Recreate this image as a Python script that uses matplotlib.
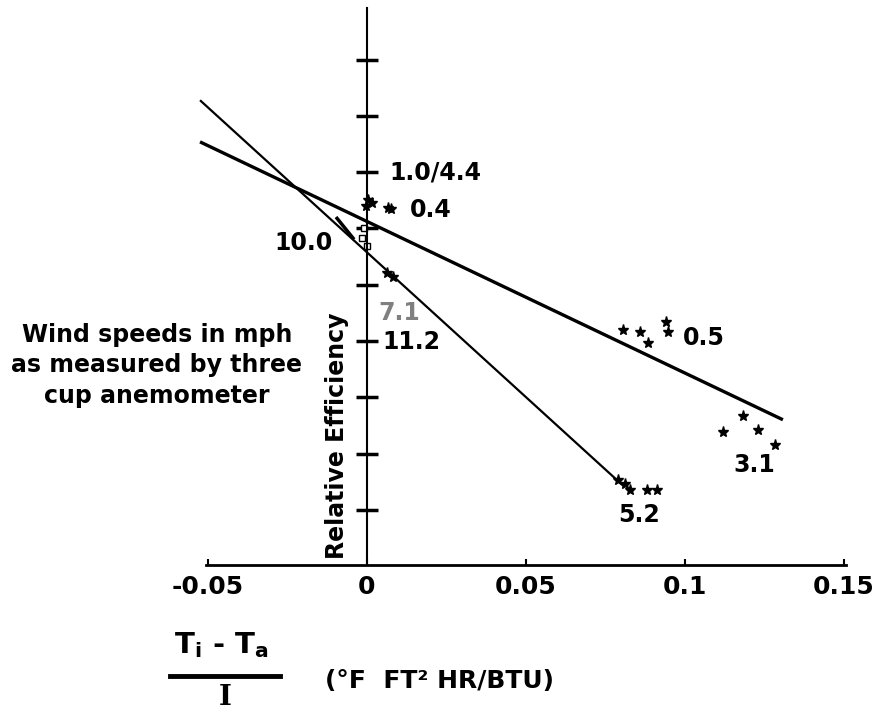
import matplotlib
matplotlib.use("Agg")
import matplotlib.pyplot as plt

plt.rcParams['font.family'] = ['DejaVu Sans']
plt.rcParams['axes.unicode_minus'] = False

# ---- data ----
x_ticks = [-0.05, 0, 0.05, 0.1, 0.15]
x_tick_labels = ["-0.05", "0", "0.05", "0.1", "0.15"]
y_ticks = [0.1, 0.2, 0.3, 0.4, 0.5, 0.6, 0.7, 0.8, 0.9]

# fitted lines (two end points each)
line_low_wind_x = [-0.0525, 0.1308]
line_low_wind_y = [0.754, 0.260]
line_high_wind_x = [-0.0525, 0.0811]
line_high_wind_y = [0.828, 0.140]

# measured clusters (wind speed label -> points)
pts_1_0_x = [0.0003, 0.0016, -0.0004]
pts_1_0_y = [0.651, 0.645, 0.640]
pts_0_4_x = [0.0066, 0.0075]
pts_0_4_y = [0.636, 0.635]
pts_10_0_x = [-0.0009, -0.0016, 0.0]
pts_10_0_y = [0.601, 0.583, 0.568]
pts_7_1_x = [0.0063, 0.0082]
pts_7_1_y = [0.521, 0.514]
pts_0_5_x = [0.0805, 0.0858, 0.0884, 0.0940, 0.0947]
pts_0_5_y = [0.420, 0.416, 0.396, 0.434, 0.416]
pts_3_1_x = [0.1120, 0.1182, 0.1230, 0.1283]
pts_3_1_y = [0.238, 0.267, 0.242, 0.215]
pts_5_2_x = [0.0789, 0.0811, 0.0827, 0.0880, 0.0912]
pts_5_2_y = [0.153, 0.146, 0.135, 0.135, 0.135]

cluster_labels = ["1.0/4.4", "0.4", "10.0", "7.1", "11.2", "0.5", "3.1", "5.2"]
label_x = [0.0072, 0.0135, -0.0107, 0.0035, 0.0048, 0.0994, 0.1151, 0.0790]
label_y = [0.699, 0.633, 0.574, 0.450, 0.398, 0.405, 0.180, 0.091]
label_ha = ["left", "left", "right", "left", "left", "left", "left", "left"]
label_color = ["black", "black", "black", "#808080", "black", "black", "black", "black"]

pointer_x = [-0.0094, -0.0044]
pointer_y = [0.618, 0.583]

# ---- figure ----
fig = plt.figure(figsize=(8.78, 7.09), dpi=100)
ax = fig.add_axes([0, 0, 1, 1])
ax.set_xlim(-0.1154, 0.1607)
ax.set_ylim(-0.2542, 1.0062)

for s in ['top', 'right']:
    ax.spines[s].set_visible(False)
ax.spines['left'].set_position(('data', 0))
ax.spines['left'].set_bounds(0.0018, 0.992)
ax.spines['left'].set_linewidth(1.5)
ax.spines['bottom'].set_position(('data', 0.0018))
ax.spines['bottom'].set_bounds(-0.0505, 0.1505)
ax.spines['bottom'].set_linewidth(2)

ax.set_xticks(x_ticks)
ax.set_xticklabels(x_tick_labels, fontsize=18, fontweight='bold')
ax.tick_params(axis='x', direction='in', length=4, width=1.5, pad=7)
ax.set_yticks(y_ticks)
ax.set_yticklabels([])
ax.tick_params(axis='y', direction='inout', length=16, width=2.5)

ax.plot(line_low_wind_x, line_low_wind_y, color='black', lw=2.4, solid_capstyle='butt')
ax.plot(line_high_wind_x, line_high_wind_y, color='black', lw=1.6, solid_capstyle='butt')
ax.plot(pointer_x, pointer_y, color='black', lw=2.5)

star = dict(marker='*', color='black', ms=8, ls='none')
ax.plot(pts_1_0_x, pts_1_0_y, **star)
ax.plot(pts_0_4_x, pts_0_4_y, **star)
ax.plot(pts_10_0_x, pts_10_0_y, marker='s', mfc='white', mec='black', ms=5, ls='none')
ax.plot(pts_7_1_x, pts_7_1_y, **star)
ax.plot(pts_0_5_x, pts_0_5_y, **star)
ax.plot(pts_3_1_x, pts_3_1_y, **star)
ax.plot(pts_5_2_x, pts_5_2_y, **star)

for t, lx, ly, ha, c in zip(cluster_labels, label_x, label_y, label_ha, label_color):
    ax.text(lx, ly, t, ha=ha, va='center', fontsize=17, fontweight='bold', color=c)

ax.text(-0.0661, 0.357, "Wind speeds in mph\nas measured by three\ncup anemometer",
        ha='center', va='center', fontsize=17, fontweight='bold', linespacing=1.35)
ax.text(-0.0094, 0.232, "Relative Efficiency", rotation=90, ha='center', va='center',
        fontsize=17, fontweight='bold')

# x axis label as fraction
ax.text(-0.0459, -0.140, r"T$_\mathregular{i}$ - T$_\mathregular{a}$", ha='center', va='center',
        fontsize=21, fontweight='bold')
ax.plot([-0.0619, -0.0274], [-0.1956, -0.1956], color='black', lw=3.5)
ax.text(-0.0447, -0.233, "I", ha='center', va='center', fontsize=20, family='DejaVu Serif',
        fontweight='bold')
ax.text(-0.0132, -0.2044, "(°F  FT² HR/BTU)", ha='left', va='center', fontsize=18,
        fontweight='bold')

fig.savefig("out.png", dpi=100)
